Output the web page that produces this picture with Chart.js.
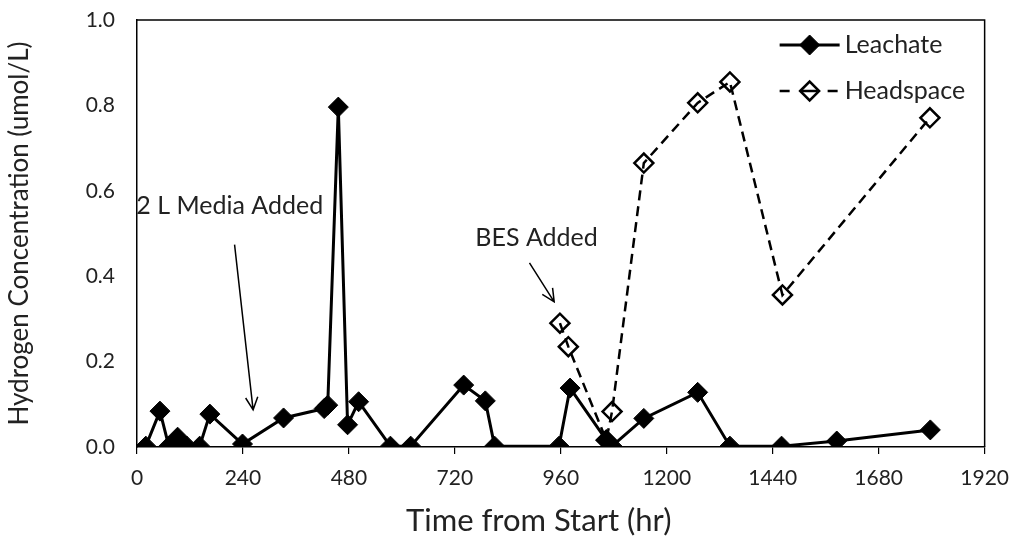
<!DOCTYPE html>
<html>
<head>
<meta charset="utf-8">
<script src="https://cdn.jsdelivr.net/npm/chart.js@4.4.0/dist/chart.umd.min.js"></script>
<style>
  body { margin: 0; background: #ffffff; }
  #wrap { width: 1021px; height: 558px; }
</style>
</head>
<body>
<div id="wrap"><canvas id="chart" width="1021" height="558"></canvas></div>
<script>
// Leachate samples: time (hr) and hydrogen (umol/L)
const leachateHours = [20, 52, 72, 92, 113, 142, 165, 239, 332, 424, 432, 456, 477, 502, 574, 620, 740, 789, 810, 956, 981, 1063, 1076, 1148, 1270, 1343, 1460, 1585, 1797];
const leachateValues = [0.002, 0.084, 0.002, 0.023, 0.002, 0.002, 0.077, 0.007, 0.068, 0.090, 0.098, 0.796, 0.052, 0.106, 0.002, 0.002, 0.145, 0.108, 0.002, 0.002, 0.138, 0.016, 0.002, 0.067, 0.128, 0.002, 0.002, 0.014, 0.040];

// Headspace samples
const headspaceHours = [958, 977, 1063, 1076, 1148, 1270, 1343, 1462, 1796];
const headspaceValues = [0.290, 0.235, 0.016, 0.083, 0.665, 0.806, 0.855, 0.356, 0.771];

// Axis ticks
const xTicks = [0, 240, 480, 720, 960, 1200, 1440, 1680, 1920];
const yTicks = [0, 0.2, 0.4, 0.6, 0.8, 1.0];

// Annotation labels with arrow (data coordinates)
const notes = [
    { text: '2 L Media Added', at: [210, 0.565], from: [221, 0.474], to: [263, 0.087] },
    { text: 'BES Added', at: [905, 0.489], from: [889, 0.431], to: [945, 0.340] }
];

const xTitle = 'Time from Start (hr)';
const FONT = 'Lato, "Liberation Sans", sans-serif';
const TEXT = '#222222';
const dashes = [10, 6];

function toPoints(xs, ys) {
    return xs.map((x, i) => ({ x: x, y: ys[i] }));
}

// Draw the outer frame on top and right of the plot area
const framePlugin = {
    id: 'frame',
    beforeDatasetsDraw(chart) {
        const { ctx, chartArea: a } = chart;
        ctx.save();
        ctx.strokeStyle = '#000';
        ctx.lineWidth = 1.5;
        ctx.beginPath();
        ctx.moveTo(a.left, a.top);
        ctx.lineTo(a.right, a.top);
        ctx.lineTo(a.right, a.bottom);
        ctx.stroke();
        ctx.restore();
    }
};

// Arrow with open head
function drawArrow(ctx, x1, y1, x2, y2) {
    const ang = Math.atan2(y2 - y1, x2 - x1);
    const len = 14;
    ctx.beginPath();
    ctx.moveTo(x1, y1);
    ctx.lineTo(x2, y2);
    ctx.moveTo(x2 - len * Math.cos(ang - 0.45), y2 - len * Math.sin(ang - 0.45));
    ctx.lineTo(x2, y2);
    ctx.lineTo(x2 - len * Math.cos(ang + 0.45), y2 - len * Math.sin(ang + 0.45));
    ctx.stroke();
}

const notesPlugin = {
    id: 'notes',
    afterDraw(chart) {
        const { ctx, scales } = chart;
        const px = v => scales.x.getPixelForValue(v);
        const py = v => scales.y.getPixelForValue(v);
        ctx.save();
        ctx.fillStyle = TEXT;
        ctx.strokeStyle = '#000';
        ctx.lineWidth = 1.5;
        ctx.font = '25px ' + FONT;
        ctx.textAlign = 'center';
        ctx.textBaseline = 'middle';
        notes.forEach(n => {
            ctx.fillText(n.text, px(n.at[0]), py(n.at[1]));
            drawArrow(ctx, px(n.from[0]), py(n.from[1]), px(n.to[0]), py(n.to[1]));
        });
        // x axis title sits a little left of the plot centre, as in the source
        ctx.font = '31px ' + FONT;
        ctx.fillText(xTitle, px(910), chart.chartArea.bottom + 74);
        ctx.restore();
    }
};

// Legend drawn inside the plot, line + marker sample like the source
const legendPlugin = {
    id: 'insideLegend',
    afterDraw(chart) {
        const { ctx, chartArea: a } = chart;
        const x0 = a.right - 205;
        const rows = [a.top + 25, a.top + 71];
        ctx.save();
        chart.data.datasets.forEach((ds, i) => {
            const y = rows[i];
            ctx.strokeStyle = '#000';
            ctx.lineWidth = ds.borderWidth;
            ctx.setLineDash(ds.borderDash || []);
            ctx.beginPath();
            if (ds.borderDash) {
                ctx.moveTo(x0, y); ctx.lineTo(x0 + 12, y);
                ctx.moveTo(x0 + 48, y); ctx.lineTo(x0 + 60, y);
            } else {
                ctx.moveTo(x0, y); ctx.lineTo(x0 + 60, y);
            }
            ctx.stroke();
            ctx.setLineDash([]);
            if (ds.borderDash) {
                ctx.beginPath();
                ctx.moveTo(x0 + 22, y); ctx.lineTo(x0 + 38, y);
                ctx.stroke();
            }
            // drawPoint fills and strokes with the current styles
            ctx.fillStyle = ds.pointBackgroundColor;
            ctx.strokeStyle = '#000';
            ctx.lineWidth = ds.pointBorderWidth;
            Chart.helpers.drawPoint(ctx, {
                pointStyle: 'rectRot',
                radius: ds.pointRadius,
                borderWidth: ds.pointBorderWidth
            }, x0 + 30, y);
            ctx.fillStyle = TEXT;
            ctx.font = '25px ' + FONT;
            ctx.textAlign = 'left';
            ctx.textBaseline = 'middle';
            ctx.fillText(ds.label, x0 + 65, y);
        });
        ctx.restore();
    }
};

function buildChart() {
    const ctx = document.getElementById('chart');
    new Chart(ctx, {
        type: 'line',
        data: {
            datasets: [{
                label: 'Leachate',
                data: toPoints(leachateHours, leachateValues),
                borderColor: '#000',
                borderWidth: 3,
                pointStyle: 'rectRot',
                pointRadius: 10,
                pointBorderWidth: 1,
                pointBackgroundColor: '#000',
                pointBorderColor: '#000',
                tension: 0
            }, {
                label: 'Headspace',
                data: toPoints(headspaceHours, headspaceValues),
                borderColor: '#000',
                borderWidth: 2.5,
                borderDash: dashes,
                pointStyle: 'rectRot',
                pointRadius: 9.5,
                pointBorderWidth: 2.5,
                pointBackgroundColor: 'rgba(0,0,0,0)',
                pointBorderColor: '#000',
                tension: 0
            }]
        },
        options: {
            responsive: false,
            animation: false,
            devicePixelRatio: 1,
            layout: { padding: { top: 20, right: 33, left: 0, bottom: 0 } },
            plugins: {
                legend: { display: false },
                tooltip: { enabled: false }
            },
            scales: {
                x: {
                    type: 'linear',
                    min: 0,
                    max: 1920,
                    afterBuildTicks: s => { s.ticks = xTicks.map(v => ({ value: v })); },
                    afterFit: s => { s.height = 111; },
                    grid: { drawOnChartArea: false, drawTicks: true, tickLength: 7, color: '#000', lineWidth: 1.2 },
                    border: { color: '#000', width: 1.5 },
                    ticks: { color: TEXT, font: { family: FONT, size: 21 }, padding: 12, maxRotation: 0, callback: v => String(v) }
                },
                y: {
                    min: 0,
                    max: 1,
                    afterBuildTicks: s => { s.ticks = yTicks.map(v => ({ value: v })); },
                    afterFit: s => { s.width = 137; s.paddingTop = 12; s.paddingBottom = 12; },
                    grid: { drawOnChartArea: false, drawTicks: false },
                    border: { color: '#000', width: 1.5 },
                    ticks: { color: TEXT, font: { family: FONT, size: 21 }, padding: 22, callback: v => v.toFixed(1) },
                    title: { display: true, text: 'Hydrogen Concentration (umol/L)', color: TEXT, font: { family: FONT, size: 26 }, padding: { bottom: 4 } }
                }
            }
        },
        plugins: [framePlugin, notesPlugin, legendPlugin]
    });
}

document.addEventListener('DOMContentLoaded', buildChart);
</script>
</body>
</html>
